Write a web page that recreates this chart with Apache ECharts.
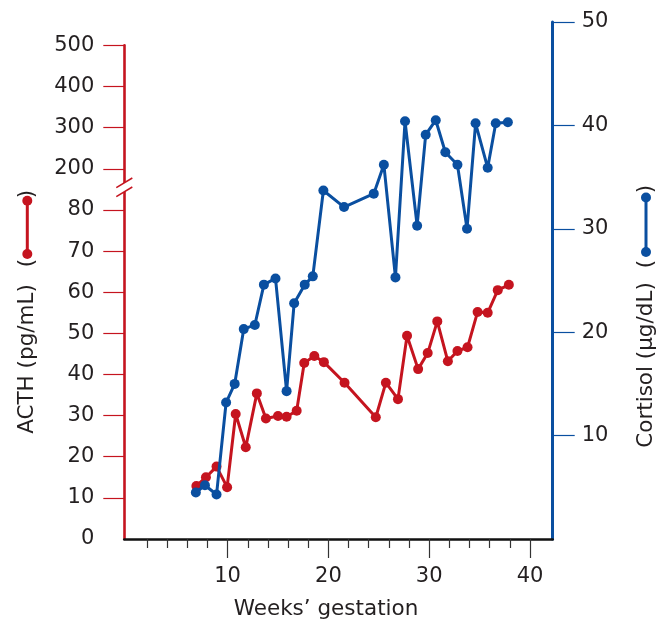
<!DOCTYPE html>
<html><head><meta charset="utf-8">
<script src="https://cdn.jsdelivr.net/npm/echarts@6/dist/echarts.min.js"></script>
<style>html,body{margin:0;padding:0;background:#fff}#c{width:667px;height:623px}</style>
</head><body><div id="c"></div>
<script>
// ---- data ----
const acthWeeks = [6.9, 7.85, 8.9, 9.95, 10.8, 11.8, 12.9, 13.8, 15.0, 15.85, 16.85, 17.6, 18.6, 19.55, 21.6, 24.7, 25.7, 26.9, 27.8, 28.9, 29.85, 30.8, 31.85, 32.8, 33.8, 34.8, 35.8, 36.8, 37.9];
const acthValues = [12.9, 15.0, 17.6, 12.6, 30.4, 22.3, 35.4, 29.3, 29.9, 29.7, 31.2, 42.8, 44.5, 43.0, 38.0, 29.6, 38.0, 34.0, 49.4, 41.3, 45.2, 52.9, 43.2, 45.7, 46.6, 55.2, 55.0, 60.5, 61.8];
const cortisolWeeks = [6.85, 7.75, 8.9, 9.85, 10.7, 11.6, 12.7, 13.6, 14.75, 15.85, 16.6, 17.65, 18.45, 19.5, 21.55, 24.5, 25.5, 26.65, 27.6, 28.8, 29.65, 30.65, 31.6, 32.8, 33.75, 34.6, 35.8, 36.6, 37.8];
const cortisolValues = [4.5, 5.2, 4.3, 13.2, 15.0, 20.3, 20.7, 24.6, 25.2, 14.3, 22.8, 24.6, 25.4, 33.7, 32.1, 33.4, 36.2, 25.3, 40.4, 30.3, 39.1, 40.5, 37.4, 36.2, 30.0, 40.2, 35.9, 40.2, 40.3];
const acthTickLabels = ['0', '10', '20', '30', '40', '50', '60', '70', '80', '200', '300', '400', '500'];
const acthTickIndex = [0, 1, 2, 3, 4, 5, 6, 7, 8, 9, 10, 11, 12];
const cortisolTicks = [10, 20, 30, 40, 50];
const weekMajorTicks = [10, 20, 30, 40];
const weekMinorTicks = [2, 4, 6, 8, 12, 14, 16, 18, 22, 24, 26, 28, 32, 34, 36, 38];
const xTitle = "Weeks\u2019 gestation";
const acthTitle = 'ACTH (pg/mL)';
const cortisolTitle = 'Cortisol (\u00b5g/dL)';

// ---- style ----
const RED = '#c5141f', BLUE = '#0a4fa0', TXT = '#231f20';
const FONT = 'DejaVu Sans';

// broken ACTH axis: 0..80 linear by 10, then 200..500 by 100
function acthToAxis(v) { return v <= 80 ? v / 10 : 7 + v / 100; }

const chart = echarts.init(document.getElementById('c'), null, {renderer: 'canvas'});
const L = 124.3, R = 667 - 552.7, B = 623 - 539;
const XMIN = -0.25, XMAX = 42.25;
const option = {
  animation: false,
  backgroundColor: '#fff',
  grid: [
    {left: L, right: R, top: 45.4, bottom: B},
    {left: L, right: R, top: 22, bottom: B}
  ],
  xAxis: [
    {gridIndex: 0, type: 'value', min: XMIN, max: XMAX, position: 'bottom',
     axisLine: {onZero: false, lineStyle: {color: '#111', width: 2.6}},
     axisTick: {customValues: weekMajorTicks, length: 19, lineStyle: {color: '#333', width: 1.2}},
     axisLabel: {customValues: weekMajorTicks, margin: 27, fontSize: 21, fontFamily: FONT, color: TXT},
     splitLine: {show: false}},
    {gridIndex: 0, type: 'value', min: XMIN, max: XMAX, position: 'bottom',
     axisLine: {show: false},
     axisTick: {customValues: weekMinorTicks, length: 9, lineStyle: {color: '#333', width: 1.2}},
     axisLabel: {show: false},
     splitLine: {show: false}},
    {gridIndex: 1, type: 'value', min: XMIN, max: XMAX, show: false}
  ],
  yAxis: [
    {gridIndex: 0, type: 'value', min: 0, max: 12, interval: 1, position: 'left',
     axisLine: {onZero: false, lineStyle: {color: RED, width: 2.6}},
     axisTick: {customValues: acthTickIndex.slice(1), length: 21, lineStyle: {color: RED, width: 1.2}},
     axisLabel: {customValues: acthTickIndex, formatter: v => acthTickLabels[Math.round(v)],
                 margin: 30, fontSize: 21, fontFamily: FONT, color: TXT},
     splitLine: {show: false}},
    {gridIndex: 1, type: 'value', min: 0, max: 50, interval: 10, position: 'right',
     axisLine: {onZero: false, lineStyle: {color: BLUE, width: 3}},
     axisTick: {customValues: cortisolTicks, length: 22, lineStyle: {color: BLUE, width: 1.2}},
     axisLabel: {customValues: cortisolTicks, margin: 29, fontSize: 21, fontFamily: FONT, color: TXT},
     splitLine: {show: false}}
  ],
  series: [
    {name: 'ACTH', type: 'line', xAxisIndex: 0, yAxisIndex: 0,
     data: acthWeeks.map((w, i) => [w, acthToAxis(acthValues[i])]),
     symbol: 'circle', symbolSize: 10, lineStyle: {color: RED, width: 3},
     itemStyle: {color: RED}, z: 3},
    {name: 'Cortisol', type: 'line', xAxisIndex: 2, yAxisIndex: 1,
     data: cortisolWeeks.map((w, i) => [w, cortisolValues[i]]),
     symbol: 'circle', symbolSize: 10, lineStyle: {color: BLUE, width: 3},
     itemStyle: {color: BLUE}, z: 4}
  ]
};
chart.setOption(option);

// decorations: axis break, rotated titles with legend keys, x title
const ax = chart.convertToPixel({xAxisIndex: 0}, XMIN);
const by = chart.convertToPixel({yAxisIndex: 0}, 8.55);
const TFONT = '21.5px "' + FONT + '"';
function rotText(text, x, y) {
  return {type: 'text', x: x, y: y, rotation: Math.PI / 2,
          style: {text: text, fill: TXT, font: TFONT, align: 'center', verticalAlign: 'middle'}, z: 10};
}
function key(color, x, y1, y2) {
  return [
    {type: 'line', shape: {x1: x, y1: y1, x2: x, y2: y2}, style: {stroke: color, lineWidth: 3}, z: 10},
    {type: 'circle', shape: {cx: x, cy: y1, r: 5}, style: {fill: color}, z: 10},
    {type: 'circle', shape: {cx: x, cy: y2, r: 5}, style: {fill: color}, z: 10}
  ];
}
const g = [
  {type: 'polygon', shape: {points: [[ax - 3, by - 4.5 + 1.8], [ax + 3, by - 4.5 - 1.8], [ax + 3, by + 4.5 - 1.8], [ax - 3, by + 4.5 + 1.8]]},
   style: {fill: '#fff'}, z: 20},
  {type: 'line', shape: {x1: ax - 8, y1: by - 4.5 + 4.8, x2: ax + 8, y2: by - 4.5 - 4.8}, style: {stroke: RED, lineWidth: 1.5}, z: 21},
  {type: 'line', shape: {x1: ax - 8, y1: by + 4.5 + 4.8, x2: ax + 8, y2: by + 4.5 - 4.8}, style: {stroke: RED, lineWidth: 1.5}, z: 21},
  {type: 'text', x: 326, y: 609, style: {text: xTitle, fill: TXT, font: TFONT, align: 'center', verticalAlign: 'middle'}, z: 10},
  rotText(acthTitle, 27.5, 359),
  rotText('(', 27.5, 263),
  rotText(')', 27.5, 194),
  rotText(cortisolTitle, 646, 365),
  rotText('(', 646, 264),
  rotText(')', 646, 189)
].concat(key(RED, 27.3, 200.7, 254), key(BLUE, 646, 197.5, 252));
chart.setOption({graphic: g});
</script>
</body></html>
